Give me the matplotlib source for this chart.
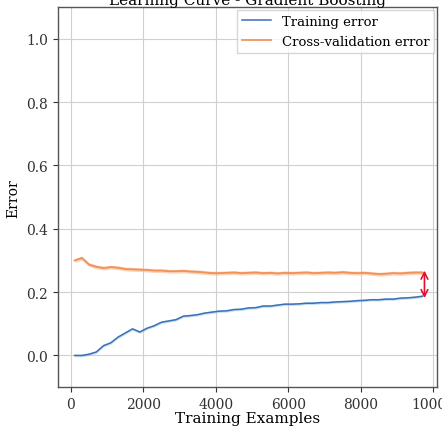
import matplotlib
matplotlib.use('Agg')
import matplotlib.pyplot as plt

# training set sizes
train_sizes = [100, 300, 500, 700, 900, 1100, 1300, 1500, 1700, 1900,
               2100, 2300, 2500, 2700, 2900, 3100, 3300, 3500, 3700, 3900,
               4100, 4300, 4500, 4700, 4900, 5100, 5300, 5500, 5700, 5900,
               6100, 6300, 6500, 6700, 6900, 7100, 7300, 7500, 7700, 7900,
               8100, 8300, 8500, 8700, 8900, 9100, 9300, 9500, 9700]

# mean training error
train_error = [0.000, 0.000, 0.004, 0.011, 0.031, 0.040, 0.058, 0.071, 0.084, 0.074,
               0.086, 0.094, 0.105, 0.109, 0.113, 0.124, 0.126, 0.129, 0.134, 0.137,
               0.140, 0.141, 0.145, 0.146, 0.150, 0.151, 0.156, 0.156, 0.159, 0.162,
               0.162, 0.163, 0.165, 0.165, 0.167, 0.167, 0.169, 0.170, 0.171, 0.173,
               0.174, 0.176, 0.176, 0.178, 0.178, 0.181, 0.182, 0.184, 0.187]

# mean cross-validation error
cv_error = [0.300, 0.308, 0.287, 0.280, 0.276, 0.279, 0.277, 0.273, 0.272, 0.271,
            0.270, 0.268, 0.268, 0.266, 0.266, 0.267, 0.265, 0.264, 0.262, 0.260,
            0.260, 0.261, 0.262, 0.260, 0.261, 0.262, 0.260, 0.261, 0.259, 0.261,
            0.260, 0.261, 0.262, 0.260, 0.261, 0.262, 0.261, 0.263, 0.261, 0.260,
            0.261, 0.259, 0.257, 0.258, 0.260, 0.259, 0.261, 0.262, 0.262]

train_std = 0.004
cv_std = 0.006

plt.rcParams['font.family'] = ['DejaVu Serif']

fig = plt.figure(figsize=(4.42, 4.27), dpi=100)
ax = fig.add_axes([0.131, 0.091, 0.858, 0.890])

blue = '#3b6fb6'
orange = '#f08a4b'

lo = [v - train_std for v in train_error]
hi = [v + train_std for v in train_error]
ax.fill_between(train_sizes, lo, hi, color='#9cc8ef', alpha=0.6, lw=0)
lo = [v - cv_std for v in cv_error]
hi = [v + cv_std for v in cv_error]
ax.fill_between(train_sizes, lo, hi, color='#f7b48a', alpha=0.6, lw=0)

ax.plot(train_sizes, train_error, color=blue, lw=1.1, label='Training error')
ax.plot(train_sizes, cv_error, color=orange, lw=1.3, alpha=0.9,
        label='Cross-validation error')

# gap between the two curves at the largest training size
ax.annotate('', xy=(train_sizes[-1] + 60, train_error[-1] - 0.006),
            xytext=(train_sizes[-1] + 60, cv_error[-1] + 0.006),
            arrowprops=dict(arrowstyle='<->', color='#e0102a', lw=1.2,
                            mutation_scale=12, shrinkA=0, shrinkB=0))

ax.set_xlim(-360, 10110)
ax.set_ylim(-0.1, 1.1)
ax.set_xticks([0, 2000, 4000, 6000, 8000, 10000])
ax.set_yticks([0.0, 0.2, 0.4, 0.6, 0.8, 1.0])
ax.grid(True, color='#d0d0d0', lw=0.8)
ax.set_axisbelow(True)
for s in ax.spines.values():
    s.set_color('#555555')
    s.set_linewidth(1.0)
ax.tick_params(colors='#333333', labelsize=10, length=3.5)

ax.set_title('Learning Curve - Gradient Boosting', fontsize=11, pad=1.5)
ax.set_xlabel('Training Examples', fontsize=11, labelpad=0)
ax.set_ylabel('Error', fontsize=10)
leg = ax.legend(loc='upper right', fontsize=9.5, framealpha=0.8,
                edgecolor='#cccccc', fancybox=False, borderaxespad=0.2,
                handlelength=2.2)

plt.savefig('out.png', dpi=100)
plt.close()
